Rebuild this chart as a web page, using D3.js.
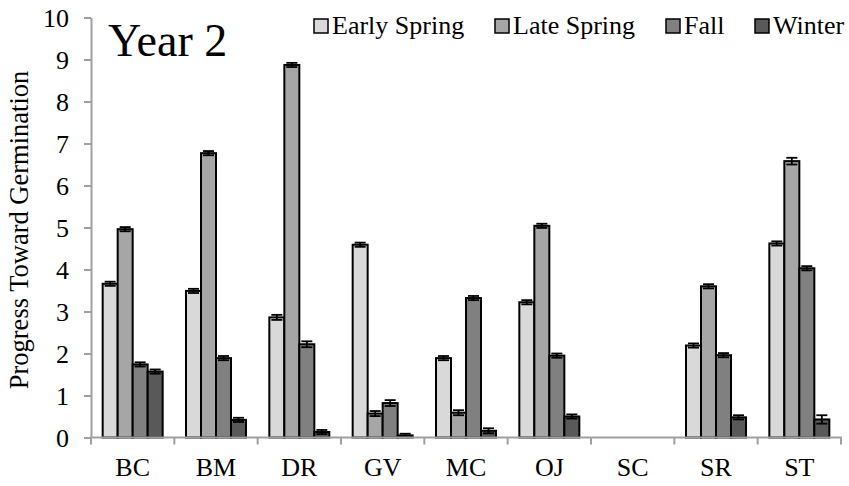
<!DOCTYPE html>
<html><head><meta charset="utf-8">
<script src="https://cdn.jsdelivr.net/npm/d3@7"></script>
<style>body{margin:0;background:#fff}svg{display:block}</style>
</head><body><svg id="c" width="849" height="486"></svg>
<script>
const categories = ["BC","BM","DR","GV","MC","OJ","SC","SR","ST"];
const seriesNames = ["Early Spring","Late Spring","Fall","Winter"];
const earlySpring = [3.66, 3.49, 2.86, 4.59, 1.89, 3.22, null, 2.19, 4.62];
const lateSpring  = [4.96, 6.77, 8.87, 0.57, 0.59, 5.04, null, 3.60, 6.58];
const fall        = [1.74, 1.89, 2.22, 0.82, 3.32, 1.95, null, 1.96, 4.03];
const winter      = [1.57, 0.42, 0.13, 0.05, 0.16, 0.50, null, 0.48, 0.43];
const errEarly = [0.05, 0.05, 0.06, 0.05, 0.05, 0.05, null, 0.05, 0.05];
const errLate  = [0.05, 0.05, 0.05, 0.06, 0.06, 0.05, null, 0.05, 0.08];
const errFall  = [0.05, 0.05, 0.07, 0.07, 0.05, 0.05, null, 0.05, 0.05];
const errWint  = [0.05, 0.05, 0.05, 0.04, 0.06, 0.05, null, 0.05, 0.10];
const yTicks = [0,1,2,3,4,5,6,7,8,9,10];
const colors = ["#d9d9d9","#a6a6a6","#808080","#595959"];

const values = [earlySpring, lateSpring, fall, winter];
const errs = [errEarly, errLate, errFall, errWint];

const FONT = "'Liberation Serif', 'Times New Roman', serif";
const svg = d3.select("#c");
const axisColor = "#a0a0a0";
const x0 = d3.scaleBand().domain(categories).range([91, 841]).paddingInner(0.28).paddingOuter(0.14);
const x1 = d3.scaleBand().domain(seriesNames).range([0, x0.bandwidth()]);
const y = d3.scaleLinear().domain([0, 10]).range([437.5, 17.5]);

// y axis
const ya = svg.append("g").attr("transform","translate(91,0)")
  .call(d3.axisLeft(y).tickValues(yTicks).tickSize(7).tickSizeOuter(0).tickPadding(15).tickFormat(d3.format("d")));
ya.attr("font-family", null).attr("font-size", null);
ya.select(".domain").attr("stroke", axisColor).attr("stroke-width", 2);
ya.selectAll(".tick line").attr("stroke", axisColor).attr("stroke-width", 2);
ya.selectAll(".tick text").style("font-size","26px").style("font-family",FONT).attr("dy","0.34em").attr("fill","#000");

// bars
seriesNames.forEach((s, si) => {
  const g = svg.append("g");
  categories.forEach((c, ci) => {
    const v = values[si][ci];
    if (v == null) return;
    const bx = x0(c) + x1(s);
    const bw = x1.bandwidth();
    g.append("rect").attr("x", bx).attr("y", y(v)).attr("width", bw).attr("height", y(0) - y(v))
      .attr("fill", colors[si]).attr("stroke", "#000").attr("stroke-width", 2);
    const e = errs[si][ci];
    const cx = bx + bw/2;
    g.append("line").attr("x1",cx).attr("x2",cx).attr("y1",y(v+e)).attr("y2",y(Math.max(0,v-e))).attr("stroke","#000").attr("stroke-width",1.8);
    [v+e, Math.max(0, v-e)].forEach(t => {
      g.append("line").attr("x1",cx-5.5).attr("x2",cx+5.5).attr("y1",y(t)).attr("y2",y(t)).attr("stroke","#000").attr("stroke-width",1.8);
    });
  });
});

// x axis (drawn over bar bottoms)
const xa = svg.append("g").attr("transform","translate(0,437.5)");
xa.append("line").attr("x1",90).attr("x2",842).attr("y1",0).attr("y2",0).attr("stroke",axisColor).attr("stroke-width",2);
const bounds = categories.map(c => x0(c) - x0.step()*x0.paddingInner()/2);
bounds.push(841);
xa.selectAll("line.t").data(bounds).join("line").attr("class","t")
  .attr("x1",d=>d).attr("x2",d=>d).attr("y1",0).attr("y2",7).attr("stroke",axisColor).attr("stroke-width",2);
xa.selectAll("text").data(categories).join("text")
  .attr("x", d => x0(d) + x0.bandwidth()/2).attr("y", 38.5)
  .attr("text-anchor","middle").style("font-size","26px").style("font-family",FONT).text(d=>d);

// y title
svg.append("text").attr("transform","translate(28,230) rotate(-90)").attr("text-anchor","middle")
  .style("font-size","26.5px").style("font-family",FONT).text("Progress Toward Germination");

// Year label
svg.append("text").attr("x",108).attr("y",56).style("font-size","46px").style("font-family",FONT).text("Year 2");

// legend
const legX = [314, 495, 666, 755];
const lg = svg.append("g");
seriesNames.forEach((s, i) => {
  lg.append("rect").attr("x", legX[i]).attr("y", 19).attr("width", 14).attr("height", 14)
    .attr("fill", colors[i]).attr("stroke","#000").attr("stroke-width",1.5);
  lg.append("text").attr("x", legX[i] + 18).attr("y", 33.5).style("font-size","26px").style("font-family",FONT).text(s);
});
</script></body></html>
